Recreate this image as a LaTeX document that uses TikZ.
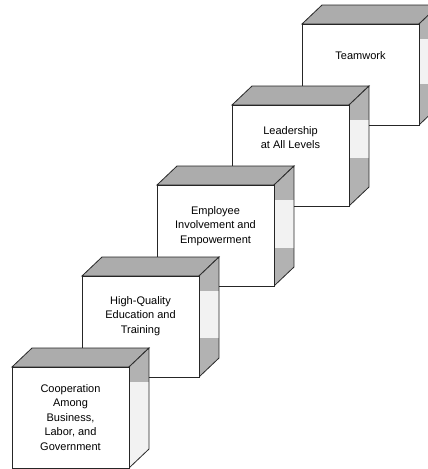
\documentclass[tikz,border=0pt]{standalone}
\usepackage{fontspec}
\setmainfont{Liberation Sans}
\usetikzlibrary{positioning}

\tikzset{
  facefront/.style={draw=black!85, fill=white, line width=0.8pt},
  facetop/.style={draw=black!85, fill=gray!65, line width=0.8pt},
  faceside/.style={fill=gray!10},
  sideedge/.style={draw=black!85, line width=0.8pt},
  sideband/.style={fill=gray!60},
  cubelabel/.style={font=\fontsize{11}{14.5}\selectfont, align=center, anchor=north, inner sep=0pt}
}

\begin{document}
\begin{tikzpicture}[x=1pt, y=-1pt]
  \useasboundingbox (0,0) rectangle (428,469);
  % blocks, drawn from the top step down to the front one
  \foreach \cx/\cy/\ty/\bnd/\txt [count=\i] in {
      302/24/51/60/{Teamwork},
      232/105/126/53/{Leadership\\at All Levels},
      157/185/206/63/{Employee\\Involvement and\\Empowerment},
      82/276/296/62/{High-Quality\\Education and\\Training},
      12/367/384/101/{Cooperation\\Among\\Business,\\Labor, and\\Government}} {
    % top face
    \draw[facetop] (\cx,\cy) -- ++(20,-19) -- ++(117,0) -- ++(-20,19) -- cycle;
    % side face with its shaded bands
    \begin{scope}
      \clip (\cx+117,\cy) -- ++(20,-19) -- ++(0,101) -- ++(-20,19) -- cycle;
      \fill[faceside] (\cx+117,\cy-19) rectangle (\cx+137,\cy+101);
      \fill[sideband] (\cx+117,\cy-19) rectangle (\cx+137,\cy+15);
      \fill[sideband] (\cx+117,\cy+\bnd) rectangle (\cx+137,\cy+101);
    \end{scope}
    \draw[sideedge] (\cx+117,\cy) -- ++(20,-19) -- ++(0,101) -- ++(-20,19) -- cycle;
    % front face
    \draw[facefront] (\cx,\cy) rectangle ++(117,101);
    \node[cubelabel] (block\i) at (\cx+58.5,\ty) {\txt};
  }
\end{tikzpicture}
\end{document}
